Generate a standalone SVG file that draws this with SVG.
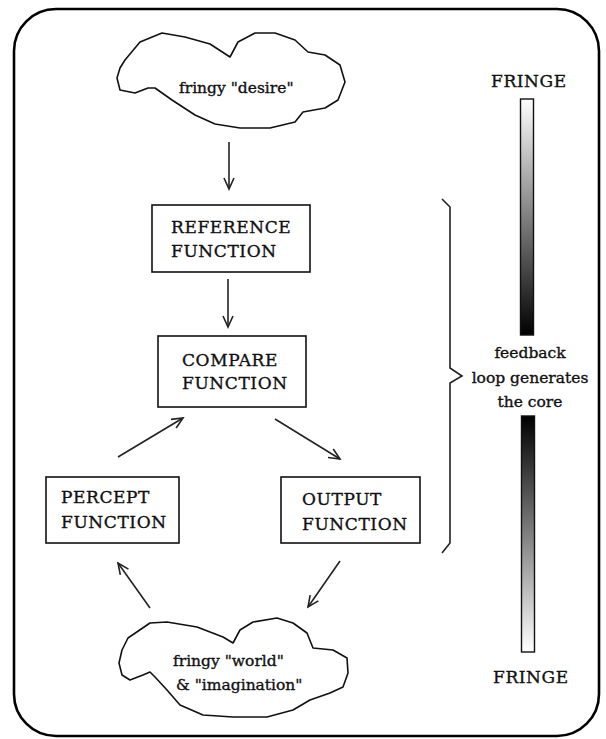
<svg xmlns="http://www.w3.org/2000/svg" width="606" height="739" viewBox="0 0 606 739">
<style>
.frame{fill:#fff;stroke:#000;stroke-width:2.6}
.box{fill:#fff;stroke:#111;stroke-width:1.6}
.cloud{fill:#fff;stroke:#111;stroke-width:1.6;stroke-linejoin:round}
.caps{font-family:"DejaVu Serif","Liberation Serif",serif;font-size:17px;letter-spacing:0.6px;fill:#111;stroke:#111;stroke-width:0.35}
.low{font-family:"DejaVu Serif","Liberation Serif",serif;font-size:15.5px;fill:#111;stroke:#111;stroke-width:0.35}
.conn{fill:none;stroke:#222;stroke-width:1.6}
.bar{stroke:#111;stroke-width:1.4}
</style>
<defs>
<marker id="ah" markerWidth="14" markerHeight="14" refX="12" refY="6" orient="auto" markerUnits="userSpaceOnUse">
<path d="M1,1 L12,6 L1,11" fill="none" stroke="#222" stroke-width="1.6"/>
</marker>
<linearGradient id="gDown" x1="0" y1="0" x2="0" y2="1">
<stop offset="0" stop-color="#fff"/>
<stop offset="1" stop-color="#000"/>
</linearGradient>
<linearGradient id="gUp" x1="0" y1="0" x2="0" y2="1">
<stop offset="0" stop-color="#000"/>
<stop offset="1" stop-color="#fff"/>
</linearGradient>
</defs>
<rect width="606" height="739" fill="#fff"/>
<rect class="frame" x="14" y="9" width="585" height="727" rx="42" ry="42"/>

<g id="cloud-desire">
<path class="cloud" d="M125,60 L140,42 L162,33 L185,37 L210,44 L230,57 L238,42 L255,33 L275,33 L295,40 L308,52 L325,55 L340,65 L345,82 L338,100 L325,108 L303,112 L295,122 L270,128 L240,128 L215,124 L195,115 L172,100 L155,88 L148,88 L135,93 L120,90 L117,78 L120,68 Z"/>
<text class="low" x="179" y="93">fringy "desire"</text>
</g>

<g id="reference">
<rect class="box" x="152" y="205" width="158" height="67"/>
<text class="caps" x="171" y="233">REFERENCE</text>
<text class="caps" x="171" y="257">FUNCTION</text>
</g>

<g id="compare">
<rect class="box" x="158" y="336" width="148" height="71"/>
<text class="caps" x="182" y="366">COMPARE</text>
<text class="caps" x="182" y="389">FUNCTION</text>
</g>

<g id="percept">
<rect class="box" x="46" y="477" width="133" height="66"/>
<text class="caps" x="61" y="503">PERCEPT</text>
<text class="caps" x="61" y="528">FUNCTION</text>
</g>

<g id="output">
<rect class="box" x="281" y="477" width="139" height="66"/>
<text class="caps" x="302" y="505">OUTPUT</text>
<text class="caps" x="302" y="530">FUNCTION</text>
</g>

<g id="cloud-world">
<path class="cloud" d="M119,663 L122,650 L128,638 L150,623 L167,622 L197,627 L223,637 L233,643 L240,630 L253,622 L277,618 L293,623 L307,633 L313,648 L333,650 L347,658 L348,673 L343,687 L330,693 L310,700 L293,710 L267,717 L233,717 L203,715 L180,705 L167,690 L155,677 L150,672 L143,675 L130,680 L122,675 Z"/>
<text class="low" x="173" y="666">fringy "world"</text>
<text class="low" x="176" y="690">&amp; "imagination"</text>
</g>

<g id="connectors">
<line class="conn" x1="229" y1="142" x2="229" y2="189" marker-end="url(#ah)"/>
<line class="conn" x1="228" y1="279" x2="228" y2="327" marker-end="url(#ah)"/>
<line class="conn" x1="118" y1="457" x2="183" y2="418" marker-end="url(#ah)"/>
<line class="conn" x1="275" y1="419" x2="340" y2="459" marker-end="url(#ah)"/>
<line class="conn" x1="340" y1="561" x2="308" y2="607" marker-end="url(#ah)"/>
<line class="conn" x1="150" y1="608" x2="118" y2="563" marker-end="url(#ah)"/>
</g>

<g id="brace">
<path class="conn" d="M442,199 L450,207 L450,368 L462,376 L450,383 L450,543 L442,553"/>
</g>

<g id="scale">
<text class="caps" x="491" y="87">FRINGE</text>
<rect class="bar" x="520.5" y="99" width="13" height="236" fill="url(#gDown)"/>
<text class="low" x="530" y="358" text-anchor="middle">feedback</text>
<text class="low" x="530" y="383" text-anchor="middle">loop generates</text>
<text class="low" x="530" y="407" text-anchor="middle">the core</text>
<rect class="bar" x="521.5" y="416" width="13" height="236" fill="url(#gUp)"/>
<text class="caps" x="493" y="683">FRINGE</text>
</g>
</svg>
